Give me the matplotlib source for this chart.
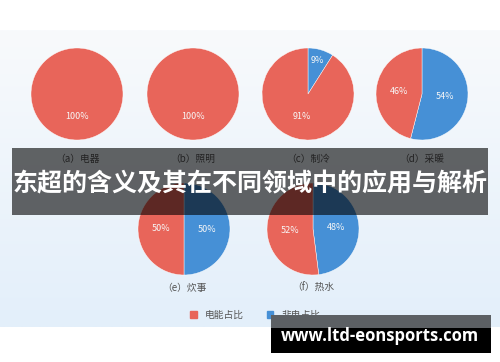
import numpy as np
import matplotlib
matplotlib.use("Agg")
import matplotlib.pyplot as plt
from matplotlib.colors import LinearSegmentedColormap
from matplotlib.patches import Rectangle, Patch

plt.rcParams["font.family"] = ["Noto Sans CJK SC", "DejaVu Sans"]

# data
categories = ["（a）电器", "（b）照明", "（c）制冷", "（d）采暖", "（e）炊事", "（f）热水"]
electric_share = [100, 100, 91, 46, 50, 52]
non_electric_share = [0, 0, 9, 54, 50, 48]
legend_labels = ["电能占比", "非电占比"]
title_text = "东超的含义及其在不同领域中的应用与解析"
watermark = "www.ltd-eonsports.com"

RED = "#e8655a"
BLUE = "#4690d6"

W, H = 500, 362
fig = plt.figure(figsize=(W / 100, H / 100), dpi=100)
fig.patch.set_facecolor("white")


def px_axes(x0, y0, w, h, **kw):
    # axes placed in pixel units from the top-left corner
    return fig.add_axes([x0 / W, 1 - (y0 + h) / H, w / W, h / H], **kw)


# light gradient panel behind the charts
bg = px_axes(0, 30, 500, 297, zorder=-5)
cmap = LinearSegmentedColormap.from_list("bg", ["#f8fafc", "#e3effa"])
bg.imshow(np.linspace(0, 1, 100).reshape(-1, 1), aspect="auto", cmap=cmap,
          extent=[0, 1, 1, 0])
bg.axis("off")

centers = [(77, 94), (193, 94), (308, 94), (422, 94), (184, 229), (313, 229)]
label_y = [159, 159, 159, 159, 288, 288]
r = 46

for i, name in enumerate(categories):
    cx, cy = centers[i]
    ax = px_axes(cx - r, cy - r, 2 * r, 2 * r)
    vals = [non_electric_share[i], electric_share[i]]
    wedges, texts, autotexts = ax.pie(
        vals, colors=[BLUE, RED], startangle=90, counterclock=False,
        autopct=lambda p: "%d%%" % round(p) if p > 0.5 else "",
        pctdistance=0.5, radius=1,
        wedgeprops=dict(linewidth=0.3, edgecolor="white"),
        textprops=dict(color="#f7f7f7", fontsize=6.5),
    )
    for v, t in zip(vals, autotexts):
        if 0 < v < 15:
            x, y = t.get_position()
            t.set_position((x * 1.5, y * 1.5))
    ax.set_xlim(-1, 1)
    ax.set_ylim(-1, 1)
    ax.axis("off")
    fig.text(cx / W, 1 - label_y[i] / H, name, ha="center", va="center",
             fontsize=7, color="#555555")

fig.legend([Patch(color=RED), Patch(color=BLUE)], legend_labels,
           loc="center", bbox_to_anchor=(255 / W, 1 - 315 / H), ncol=2,
           frameon=False, fontsize=7, labelcolor="#555555",
           handlelength=0.7, handleheight=0.7, handletextpad=0.8,
           columnspacing=2.4)

# overlay: banner and watermark
ov = px_axes(0, 0, W, H, zorder=10)
ov.set_xlim(0, W)
ov.set_ylim(H, 0)
ov.axis("off")
ov.add_patch(Rectangle((12, 148), 476, 67, color="black", alpha=0.6, lw=0))
ov.text(250, 183, title_text, ha="center", va="center", color="white",
        fontsize=18, fontweight="bold")
ov.add_patch(Rectangle((271, 315), 220, 13, color="#5c6064", lw=0))
ov.add_patch(Rectangle((271, 328), 220, 25, color="black", lw=0))
ov.text(380, 336, watermark, ha="center", va="center", color="white",
        fontsize=12, fontweight="bold", family="Open Sans")

fig.savefig("out.png", dpi=100)
